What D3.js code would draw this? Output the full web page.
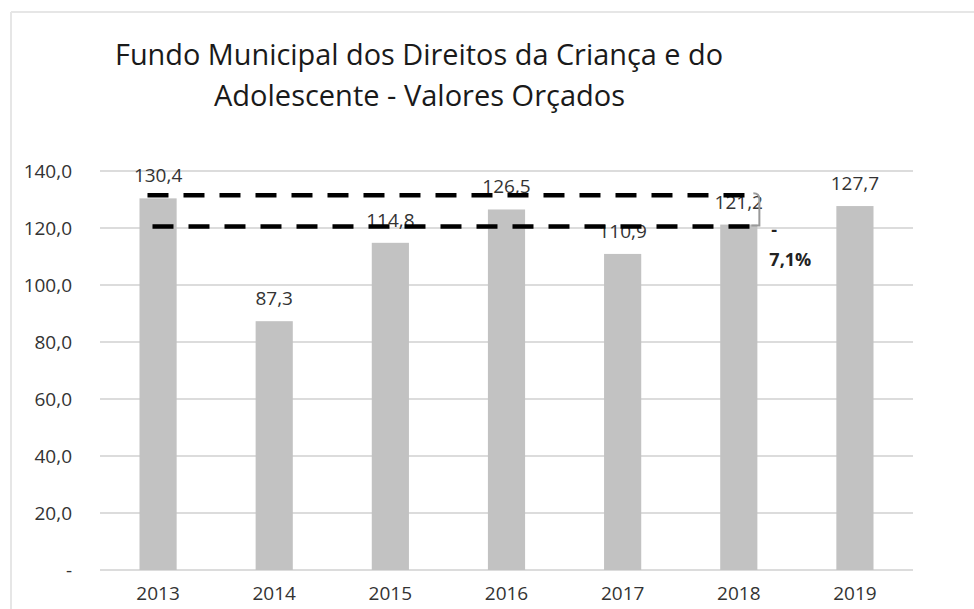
<!DOCTYPE html>
<html>
<head>
<meta charset="utf-8">
<script src="https://cdn.jsdelivr.net/npm/d3@7"></script>
<style>
  body { margin: 0; background: #fff; }
  text { font-family: "Open Sans", "Noto Sans", sans-serif; }
</style>
</head>
<body>
<div id="container"></div>
<script>
const years = ["2013", "2014", "2015", "2016", "2017", "2018", "2019"];
const values = [130.4, 87.3, 114.8, 126.5, 110.9, 121.2, 127.7];
const yTicks = [0, 20, 40, 60, 80, 100, 120, 140];
const titleLines = ["Fundo Municipal dos Direitos da Criança e do", "Adolescente - Valores Orçados"];
const refLevels = [130.4, 121.2];
const changeLabel = "7,1%";

const width = 974, height = 609;
const margin = { top: 171, bottom: 39, left: 100, right: 61 };
const fs = 19;

const svg = d3.select("#container").append("svg")
  .attr("width", width).attr("height", height);

// moldura
svg.append("line").attr("x1", 11).attr("x2", width).attr("y1", 12).attr("y2", 12)
  .attr("stroke", "#e6e6e6").attr("stroke-width", 2);
svg.append("line").attr("x1", 11).attr("x2", 11).attr("y1", 12).attr("y2", height)
  .attr("stroke", "#e6e6e6").attr("stroke-width", 2);

// título
const title = svg.append("g").attr("fill", "#1a1a1a").attr("font-size", 29);
title.append("text").attr("x", 115).attr("y", 65)
  .attr("textLength", 608).attr("lengthAdjust", "spacingAndGlyphs").text(titleLines[0]);
title.append("text").attr("x", 214).attr("y", 106)
  .attr("textLength", 411).attr("lengthAdjust", "spacingAndGlyphs").text(titleLines[1]);

// escalas
const x = d3.scaleBand().domain(years)
  .range([margin.left, width - margin.right]).paddingInner(0.68).paddingOuter(0.34);
const y = d3.scaleLinear().domain([0, 140]).range([height - margin.bottom, margin.top]);

// grade
svg.append("g").selectAll("line").data(yTicks).enter().append("line")
  .attr("x1", margin.left).attr("x2", width - margin.right)
  .attr("y1", d => y(d)).attr("y2", d => y(d))
  .attr("stroke", "#dcdcdc").attr("stroke-width", 2);

// eixo y
const yAxis = d3.axisLeft(y).tickValues(yTicks).tickSize(0).tickPadding(28)
  .tickFormat(d => d === 0 ? "-" : d3.format(".1f")(d).replace(".", ","));
const gy = svg.append("g").attr("transform", `translate(${margin.left},0)`).call(yAxis);
gy.select(".domain").remove();
gy.selectAll("text").attr("font-size", fs).attr("fill", "#333")
  .attr("font-family", "'Open Sans', sans-serif");

// eixo x
const xAxis = d3.axisBottom(x).tickSize(0).tickPadding(17);
const gx = svg.append("g").attr("transform", `translate(0,${height - margin.bottom})`).call(xAxis);
gx.select(".domain").remove();
gx.selectAll("text").attr("font-size", fs).attr("fill", "#333")
  .attr("font-family", "'Open Sans', sans-serif");

// barras
svg.append("g").selectAll("rect").data(values).enter().append("rect")
  .attr("x", (d, i) => x(years[i]))
  .attr("y", d => y(d))
  .attr("width", x.bandwidth())
  .attr("height", d => y(0) - y(d))
  .attr("fill", "#c2c2c2");

// rótulos
svg.append("g").selectAll("text").data(values).enter().append("text")
  .attr("x", (d, i) => x(years[i]) + x.bandwidth() / 2)
  .attr("y", d => y(d) - 16)
  .attr("text-anchor", "middle")
  .attr("font-size", fs).attr("fill", "#333")
  .text(d => d3.format(".1f")(d).replace(".", ","));

// linhas tracejadas de referência
const xStart = [x("2013") + 8, x("2013") + 13];
const xEnd = [x("2018") + x.bandwidth() - 4, x("2018") + x.bandwidth() + 2];
const yOff = [-3, 2];
svg.append("g").selectAll("line").data(refLevels).enter().append("line")
  .attr("x1", (d, i) => xStart[i]).attr("x2", (d, i) => xEnd[i])
  .attr("y1", (d, i) => y(d) + yOff[i]).attr("y2", (d, i) => y(d) + yOff[i])
  .attr("stroke", "#000").attr("stroke-width", 4.5)
  .attr("stroke-dasharray", "21,15");

// chave
const bx = x("2018") + x.bandwidth() + 2;
const y1 = y(refLevels[0]) - 5, y2 = y(refLevels[1]) + 1;
svg.append("path")
  .attr("d", `M${bx - 6},${y1} Q${bx},${y1} ${bx},${y1 + 6} L${bx},${y2} L${bx - 8},${y2}`)
  .attr("fill", "none").attr("stroke", "#999").attr("stroke-width", 2);

svg.append("text").attr("x", bx + 12).attr("y", y2 + 10)
  .attr("font-size", 18).attr("font-weight", "bold").attr("fill", "#222").text("-");
svg.append("text").attr("x", bx + 10).attr("y", y2 + 40)
  .attr("font-size", 18).attr("font-weight", "bold").attr("fill", "#222").text(changeLabel);
</script>
</body>
</html>
